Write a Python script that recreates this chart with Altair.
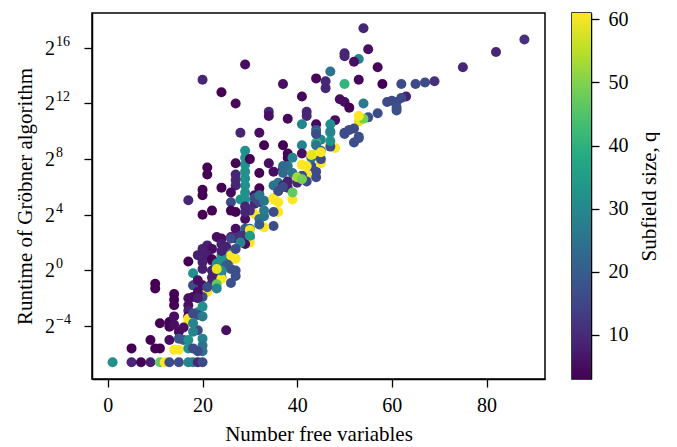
import altair as alt
import pandas as pd

# ---- data (x: number of free variables, log2 of runtime, q: subfield size)
free_vars = [54, 88, 82, 75, 55, 50, 50, 53, 52, 57, 47, 29, 20, 24, 27, 37, 44, 46, 46, 53,
             50, 58, 62, 65, 67, 69, 63, 62, 61, 60, 59, 61, 61, 49, 50, 51, 54, 57, 55, 53,
             54, 53, 48, 52, 41, 34, 34, 38, 42, 42, 41, 44, 44, 47, 50, 53, 52, 51, 50, 53,
             28, 32, 33, 37, 38, 38, 41, 41, 44, 45, 44, 45, 47, 48, 47, 47, 47, 45, 43, 44,
             41, 42, 42, 43, 44, 43, 44, 45, 45,
             29, 29, 29, 29, 29, 29, 29, 29,
             30, 27, 21, 21, 27, 27, 27, 32, 34, 35, 37, 38, 39, 37, 37, 40, 41, 38, 35, 36,
             37, 38, 35, 32, 31, 32, 26, 17, 20, 20, 24, 26, 39, 39, 40, 41, 36, 37, 22, 20,
             28, 26, 27, 31, 32, 33, 33, 35, 36, 36, 35, 35, 33, 31, 30, 29, 27, 26, 27, 29,
             30, 29, 30, 30, 29, 24, 23, 25, 21, 21, 22, 19, 20, 17, 26, 26, 26, 27, 24, 24,
             22, 23, 22, 23, 22, 22, 24, 24, 24, 23, 23, 26, 27, 26, 18, 18, 19, 20, 21, 20,
             21, 19, 18, 19, 10, 10, 14, 14, 14, 17, 17, 17, 17, 19, 20, 17, 17, 18, 19, 20,
             19, 25, 11, 13, 13, 14, 15, 16, 14, 9, 5, 10, 11, 13, 15, 16, 14, 15, 17, 17,
             18, 18, 20, 20, 20, 19, 18,
             1, 5, 7, 9, 11, 12, 13, 15, 17, 18, 19, 20,
             29, 29, 31, 32, 33, 32, 32, 28, 30, 30, 28, 26, 27, 24, 24, 21, 20, 20, 22, 25,
             27, 23, 24, 23, 20, 47, 44, 44, 45, 39, 42]
log2_runtime = [17.4, 16.6, 15.7, 14.6, 15.9, 15.6, 15.4, 15.2, 15.0, 14.6, 14.3, 14.8, 13.7, 12.8, 12.0, 13.4, 13.8, 13.6, 13.1, 13.7,
                13.4, 13.4, 13.4, 13.4, 13.5, 13.6, 12.5, 12.4, 12.1, 12.2, 12.1, 11.7, 11.5, 12.3, 12.1, 11.7, 12.0, 11.3, 11.0, 10.7,
                10.9, 11.1, 10.8, 10.2, 12.5, 11.4, 11.1, 10.9, 11.4, 11.1, 10.5, 10.5, 10.1, 10.5, 9.9, 9.6, 9.2, 10.1, 9.8, 9.5,
                9.9, 9.9, 9.0, 9.0, 8.4, 8.1, 9.0, 8.4, 9.9, 9.4, 9.2, 8.6, 9.2, 8.8, 8.9, 9.9, 9.3, 7.8, 7.5, 7.1,
                7.6, 6.9, 6.4, 8.1, 8.4, 8.3, 6.7, 7.7, 8.0,
                8.6, 8.1, 7.6, 7.1, 6.6, 6.1, 5.6, 5.1,
                8.0, 7.7, 7.4, 6.9, 6.9, 6.5, 6.1, 7.0, 7.7, 7.1, 7.3, 7.5, 7.0, 7.5, 7.0, 6.3, 6.8, 6.4, 6.1, 6.3,
                6.1, 5.95, 5.2, 5.5, 5.4, 5.9, 4.9, 5.05, 5.8, 5.4, 5.95, 5.6, 5.1, 5.6, 6.7, 6.55, 5.7, 6.0, 4.3, 4.0,
                5.1, 4.3, 4.2, 4.8, 4.9, 5.0, 3.9, 5.1, 4.9, 4.2, 4.2, 3.2, 3.1, 4.05, 4.3, 3.7, 3.0, 2.4, 2.3, 3.0,
                3.0, 2.5, 2.4, 2.0, 1.9, 2.3, 2.4, 1.7, 1.8, 1.3, 1.55, 1.1, 0.95, 0.64, 1.2, 0.8, 1.07, 0.84, 1.07, 0.7,
                0.7, 0.4, 0.0, -0.2, -0.5, -0.9, -0.1, -0.5, -0.6, -1.0, -1.3, 0.1, -0.4, -0.9, -0.2, -1.07, -0.7, -1.07, -1.55, -1.9,
                -1.2, -1.55, -1.9, -2.0, -0.95, -1.3, -1.7, -2.1, -2.5, -2.0, -2.5, -2.9, -3.3, -3.0, -2.6, -3.45, -3.7, -3.1, -3.2, -3.3,
                -4.3, -4.3, -3.8, -3.7, -4.05, -3.9, -4.4, -4.1, -3.3, -5.0, -5.6, -5.6, -5.6, -5.0, -4.9, -5.0, -5.7, -5.7, -5.0, -5.6,
                -4.4, -5.6, -4.9, -5.4, -5.8, -5.8, -3.8,
                -6.6, -6.6, -6.6, -6.6, -6.6, -6.6, -6.6, -6.6, -6.6, -6.6, -6.6, -6.6,
                4.6, 4.2, 5.2, 5.4, 4.3, 3.7, 3.3, 2.5, 2.9, 2.5, 2.0, 2.3, 1.55, 1.9, 1.4, 1.07, 0.6, 0.1, 0.8, 0.36,
                0.0, 0.5, 0.0, 0.1, 1.55, 10.0, 9.8, 9.0, 8.5, 8.1, 7.5]
q_size = [9, 11, 9, 9, 5, 9, 9, 29, 5, 4, 25, 5, 9, 3, 4, 5, 4, 9, 9, 4,
          41, 3, 16, 16, 16, 11, 8, 16, 16, 16, 16, 17, 17, 5, 5, 3, 27, 16, 17, 59,
          49, 61, 5, 16, 4, 9, 5, 4, 9, 9, 29, 4, 19, 32, 16, 16, 16, 16, 16, 17,
          9, 5, 3, 3, 3, 3, 29, 5, 27, 29, 41, 19, 61, 61, 16, 37, 32, 61, 16, 16,
          61, 61, 16, 25, 61, 59, 16, 61, 16,
          32, 32, 32, 32, 32, 32, 32, 32,
          3, 3, 3, 3, 9, 9, 9, 3, 5, 5, 3, 25, 25, 23, 23, 9, 16, 8, 25, 25,
          8, 8, 61, 29, 5, 3, 16, 9, 3, 3, 3, 4, 61, 47, 53, 49, 16, 16, 3, 3,
          32, 3, 3, 9, 16, 25, 25, 61, 61, 61, 16, 16, 61, 61, 11, 5, 5, 8, 8, 19,
          23, 9, 16, 61, 5, 5, 5, 8, 8, 8, 5, 8, 8, 3, 25, 19, 61, 61, 32, 32,
          9, 9, 8, 9, 8, 9, 16, 16, 61, 47, 29, 17, 17, 17, 32, 16, 5, 5, 61, 16,
          16, 5, 5, 8, 3, 3, 3, 3, 3, 5, 5, 8, 3, 29, 32, 61, 61, 16, 16, 27,
          16, 5, 3, 3, 3, 5, 5, 5, 5, 3, 3, 3, 3, 5, 19, 19, 61, 61, 32, 32,
          29, 16, 29, 25, 25, 16, 29,
          32, 9, 3, 8, 47, 61, 16, 16, 29, 29, 9, 16,
          9, 9, 16, 25, 27, 25, 19, 11, 61, 35, 29, 16, 16, 8, 8, 8, 8, 8, 3, 19,
          17, 32, 32, 59, 8, 29, 16, 25, 61, 29, 61]

x_ticks = [0, 20, 40, 60, 80]
y_tick_exponents = [-4, 0, 4, 8, 12, 16]
cbar_ticks = [10, 20, 30, 40, 50, 60]

FONT = "Liberation Serif"
W, H = 453, 366

df = pd.DataFrame({"vars": free_vars,
                   "runtime": [2.0 ** e for e in log2_runtime],
                   "q": q_size})
tick_df = pd.DataFrame({"runtime": [2.0 ** e for e in y_tick_exponents],
                        "exp": [str(e).replace("-", "\u2212") for e in y_tick_exponents]})

q_lo, q_hi = min(q_size), max(q_size)

x_scale = alt.Scale(domain=[-3.35, 92.35], nice=False, zero=False)
y_scale = alt.Scale(type="log", base=2, domain=[2 ** -7.8, 2 ** 18.5], nice=False)
c_scale = alt.Scale(scheme="viridis", domain=[q_lo, q_hi])
y_axis = alt.Axis(values=[2.0 ** e for e in y_tick_exponents], labels=False,
                  title="Runtime of Gröbner algorithm", titlePadding=48)

points = alt.Chart(df).mark_circle(size=100, opacity=1).encode(
    x=alt.X("vars:Q", scale=x_scale,
            axis=alt.Axis(values=x_ticks, title="Number free variables", labelPadding=8,
                          titlePadding=8, titleFontSize=21)),
    y=alt.Y("runtime:Q", scale=y_scale, axis=y_axis),
    color=alt.Color("q:Q", scale=c_scale, legend=None),
)

base_lbl = alt.Chart(tick_df).mark_text(
    text="2", align="right", baseline="middle", fontSize=20, font=FONT, color="black", dy=1
).encode(x=alt.value(-37), y=alt.Y("runtime:Q", scale=y_scale, axis=y_axis))

exp_lbl = alt.Chart(tick_df).mark_text(
    align="left", baseline="middle", fontSize=14, font=FONT, color="black", dy=-6
).encode(x=alt.value(-36), y=alt.Y("runtime:Q", scale=y_scale, axis=y_axis), text="exp:N")

main = alt.layer(points, base_lbl, exp_lbl).properties(width=W, height=H)

viridis = ["#440154", "#482475", "#414487", "#355f8d", "#2a788e", "#21918c",
           "#22a884", "#44bf70", "#7ad151", "#bddf26", "#fde725"]
grad = {"gradient": "linear", "x1": 0, "y1": 1, "x2": 0, "y2": 0,
        "stops": [{"offset": i / 10, "color": c} for i, c in enumerate(viridis)]}

cb_df = pd.DataFrame({"lo": [q_lo], "hi": [q_hi]})
cbar = alt.Chart(cb_df).mark_rect(color=grad).encode(
    y=alt.Y("lo:Q", scale=alt.Scale(domain=[q_lo, q_hi], nice=False, zero=False),
            axis=alt.Axis(orient="right", values=cbar_ticks, title="Subfield size, q",
                          titleAngle=270, titleBaseline="top", labelPadding=9,
                          titlePadding=10, titleFontSize=21)),
    y2="hi:Q",
    x=alt.value(0), x2=alt.value(19),
).properties(width=19, height=H)

chart = alt.hconcat(main, cbar, spacing=25).properties(
    padding={"left": 5, "top": 0, "right": 0, "bottom": 0}
).configure_view(stroke="black", strokeWidth=1.5).configure_axis(
    grid=False, domainColor="black", domainWidth=1.5, tickColor="black", tickWidth=1.3,
    tickSize=8, labelFont=FONT, titleFont=FONT, labelFontSize=20, titleFontSize=21,
    titleFontWeight="normal", labelColor="black", titleColor="black"
)

chart.save("out.html", embed_options={"renderer": "svg", "actions": False})
